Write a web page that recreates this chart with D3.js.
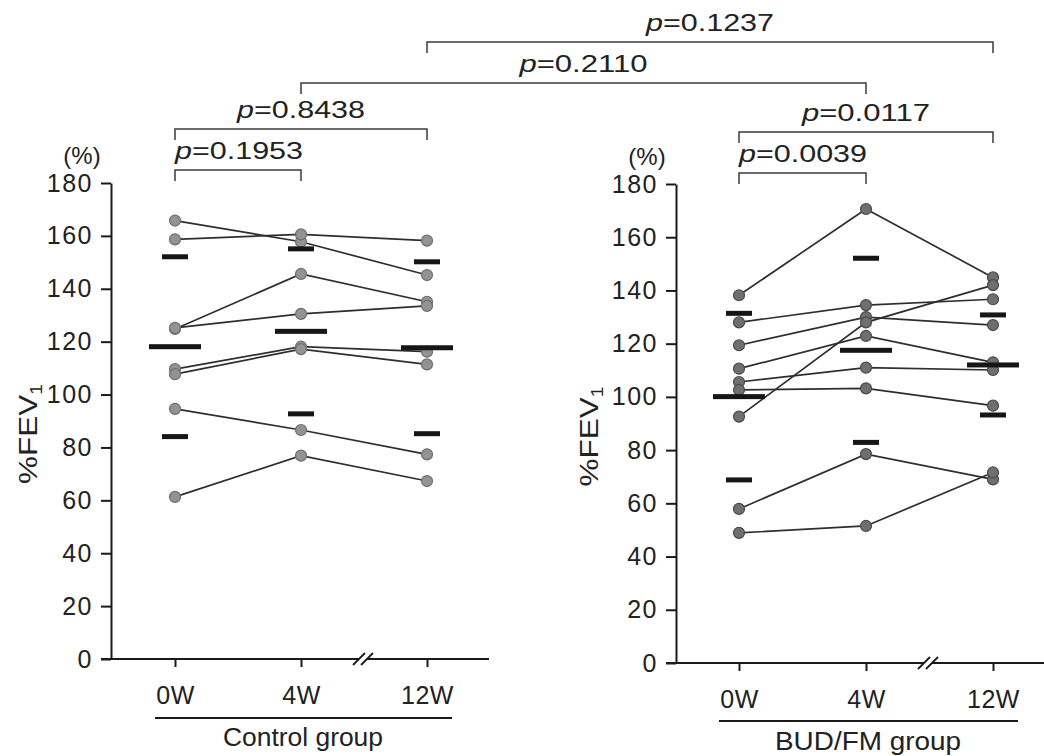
<!DOCTYPE html>
<html>
<head>
<meta charset="utf-8">
<title>%FEV1 Control vs BUD/FM</title>
<script src="https://d3js.org/d3.v7.min.js"></script>
<style>
  body { margin: 0; background: #fff; }
  text { font-family: "Liberation Sans", Arial, sans-serif; fill: #222; }
</style>
</head>
<body>
<svg width="1044" height="756"></svg>
<script>

// ---- data ----
var weeks = ["0W", "4W", "12W"];
var yTicks = [0, 20, 40, 60, 80, 100, 120, 140, 160, 180];

// one row per subject: values at 0W, 4W, 12W
var controlSubjects = [
  [165.8, 157.8, 145.2],
  [158.7, 160.6, 158.2],
  [124.8, 145.6, 135.1],
  [125.2, 130.5, 133.5],
  [109.6, 118.1, 116.2],
  [107.7, 117.2, 111.4],
  [94.6, 86.6, 77.4],
  [61.3, 76.9, 67.3]
];
var controlMean = [118.1, 123.9, 117.7];
var controlSD = [34.0, 31.2, 32.5];

var budSubjects = [
  [138.2, 170.6, 144.9],
  [128.0, 134.5, 136.7],
  [119.4, 130.0, 127.0],
  [110.6, 122.9, 113.0],
  [105.6, 111.0, 110.1],
  [102.6, 103.2, 96.7],
  [92.6, 128.0, 142.0],
  [57.9, 78.5, 69.0],
  [48.9, 51.5, 71.6]
];
var budMean = [100.1, 117.5, 112.0];
var budSD = [31.3, 34.6, 18.8];

var groupNames = ["Control group", "BUD/FM group"];

// comparisons: [panel, week] -> [panel, week]
var pValues = ["0.1953", "0.8438", "0.2110", "0.1237", "0.0117", "0.0039"];
var pFrom = [[0, 0], [0, 0], [0, 1], [0, 2], [1, 0], [1, 0]];
var pTo   = [[0, 1], [0, 2], [1, 1], [1, 2], [1, 2], [1, 1]];

// ---- layout ----
var svg = d3.select("svg");

var panels = [
  { subjects: controlSubjects, mean: controlMean, sd: controlSD, name: groupNames[0],
    axisX: 111, xr: [175, 427], yr: [659, 183], xEnd: 489, brk: 363,
    ptFill: "#939393", ptStroke: "#6e6e6e", lineY: 718, nameY: 746, ylabX: 37, nameW: 160 },
  { subjects: budSubjects, mean: budMean, sd: budSD, name: groupNames[1],
    axisX: 676, xr: [739, 993], yr: [663, 184], xEnd: 1044, brk: 928,
    ptFill: "#6f6f6f", ptStroke: "#4a4a4a", lineY: 721, nameY: 750, ylabX: 598, nameW: 186 }
];

panels.forEach(function(p) {
  p.x = d3.scalePoint().domain(weeks).range(p.xr);
  p.y = d3.scaleLinear().domain([0, 180]).range(p.yr);
});

panels.forEach(function(p) {
  var g = svg.append("g");

  // y axis
  var ya = g.append("g")
      .attr("transform", "translate(" + p.axisX + ",0)")
      .call(d3.axisLeft(p.y).tickValues(yTicks).tickSize(10).tickSizeOuter(0).tickPadding(8));
  ya.selectAll("path, line").attr("stroke", "#1a1a1a").attr("stroke-width", 2);
  ya.selectAll("text")
      .attr("font-size", 25)
      .attr("letter-spacing", 1.5)
      .attr("fill", "#222")
      .style("font-family", "'Liberation Sans', Arial, sans-serif");

  g.append("text")
      .attr("x", p.axisX - 29)
      .attr("y", p.y(180) - 19)
      .attr("text-anchor", "middle")
      .attr("font-size", 24)
      .text("(%)");

  // %FEV1, a little wider than the plain font
  var yl = g.append("text")
      .attr("transform", "translate(" + p.ylabX + "," + ((p.yr[0] + p.yr[1]) / 2 + 13) + ") rotate(-90)")
      .attr("text-anchor", "middle")
      .attr("font-size", 26)
      .attr("textLength", 100)
      .attr("lengthAdjust", "spacingAndGlyphs");
  yl.append("tspan").text("%FEV");
  yl.append("tspan").attr("font-size", 16).attr("dy", 5).text("1");

  // x axis with a break between 4W and 12W
  var x0 = p.y(0);
  var xa = g.append("g")
      .attr("transform", "translate(0," + x0 + ")")
      .call(d3.axisBottom(p.x).tickSize(8).tickSizeOuter(0).tickPadding(19));
  xa.select(".domain").remove();
  xa.selectAll("line").attr("stroke", "#1a1a1a").attr("stroke-width", 2);
  xa.selectAll("text")
      .attr("font-size", 25)
      .attr("letter-spacing", 0.5)
      .attr("fill", "#222")
      .style("font-family", "'Liberation Sans', Arial, sans-serif");

  g.append("line")
      .attr("x1", p.axisX - 10).attr("x2", p.xEnd)
      .attr("y1", x0).attr("y2", x0)
      .attr("stroke", "#1a1a1a").attr("stroke-width", 2);
  g.append("rect")
      .attr("x", p.brk - 4).attr("y", x0 - 3)
      .attr("width", 8).attr("height", 6)
      .attr("fill", "#fff");
  [-4, 4].forEach(function(d) {
    g.append("line")
        .attr("x1", p.brk + d - 6).attr("y1", x0 + 6)
        .attr("x2", p.brk + d + 6).attr("y2", x0 - 6)
        .attr("stroke", "#1a1a1a").attr("stroke-width", 1.8);
  });

  // group underline and name
  g.append("line")
      .attr("x1", p.x("0W") - 20).attr("x2", p.x("12W") + 25)
      .attr("y1", p.lineY).attr("y2", p.lineY)
      .attr("stroke", "#1a1a1a").attr("stroke-width", 1.8);
  g.append("text")
      .attr("x", (p.x("0W") + p.x("12W")) / 2 + 2)
      .attr("y", p.nameY)
      .attr("text-anchor", "middle")
      .attr("font-size", 25)
      .attr("textLength", p.nameW)
      .attr("lengthAdjust", "spacingAndGlyphs")
      .text(p.name);

  // subject lines
  var line = d3.line()
      .x(function(d, i) { return p.x(weeks[i]); })
      .y(function(d) { return p.y(d); });

  g.append("g").selectAll("path")
    .data(p.subjects)
    .enter().append("path")
      .attr("d", line)
      .attr("fill", "none")
      .attr("stroke", "#2e2e2e")
      .attr("stroke-width", 1.7);

  // subject points
  p.subjects.forEach(function(s) {
    g.append("g").selectAll("circle")
      .data(s)
      .enter().append("circle")
        .attr("cx", function(d, i) { return p.x(weeks[i]); })
        .attr("cy", function(d) { return p.y(d); })
        .attr("r", 5.5)
        .attr("fill", p.ptFill)
        .attr("stroke", p.ptStroke)
        .attr("stroke-width", 1.2);
  });

  // mean (long) and mean +/- SD (short) bars
  var bars = [];
  weeks.forEach(function(w, i) {
    bars.push({ w: w, v: p.mean[i], len: 52 });
    bars.push({ w: w, v: p.mean[i] + p.sd[i], len: 26 });
    bars.push({ w: w, v: p.mean[i] - p.sd[i], len: 26 });
  });
  g.append("g").selectAll("rect")
    .data(bars)
    .enter().append("rect")
      .attr("x", function(d) { return p.x(d.w) - d.len / 2; })
      .attr("y", function(d) { return p.y(d.v) - 2.5; })
      .attr("width", function(d) { return d.len; })
      .attr("height", 5)
      .attr("fill", "#161616");
});

// ---- significance brackets ----
var bracketY = [170, 129, 83, 42, 132, 173];
var bracketAlign = ["start", "middle", "middle", "middle", "middle", "start"];

var br = svg.append("g");
pValues.forEach(function(pv, i) {
  var xa = panels[pFrom[i][0]].x(weeks[pFrom[i][1]]);
  var xb = panels[pTo[i][0]].x(weeks[pTo[i][1]]);
  var y = bracketY[i];
  br.append("path")
      .attr("d", "M" + xa + "," + (y + 11) + "V" + y + "H" + xb + "V" + (y + 11))
      .attr("fill", "none")
      .attr("stroke", "#3a3a3a")
      .attr("stroke-width", 1.5);
  var t = br.append("text")
      .attr("x", bracketAlign[i] == "start" ? xa : (xa + xb) / 2)
      .attr("y", y - 11)
      .attr("text-anchor", bracketAlign[i])
      .attr("font-size", 23)
      .attr("textLength", 128)
      .attr("lengthAdjust", "spacingAndGlyphs");
  t.append("tspan").attr("font-style", "italic").text("p");
  t.append("tspan").text("=" + pv);
});

</script>
</body>
</html>
